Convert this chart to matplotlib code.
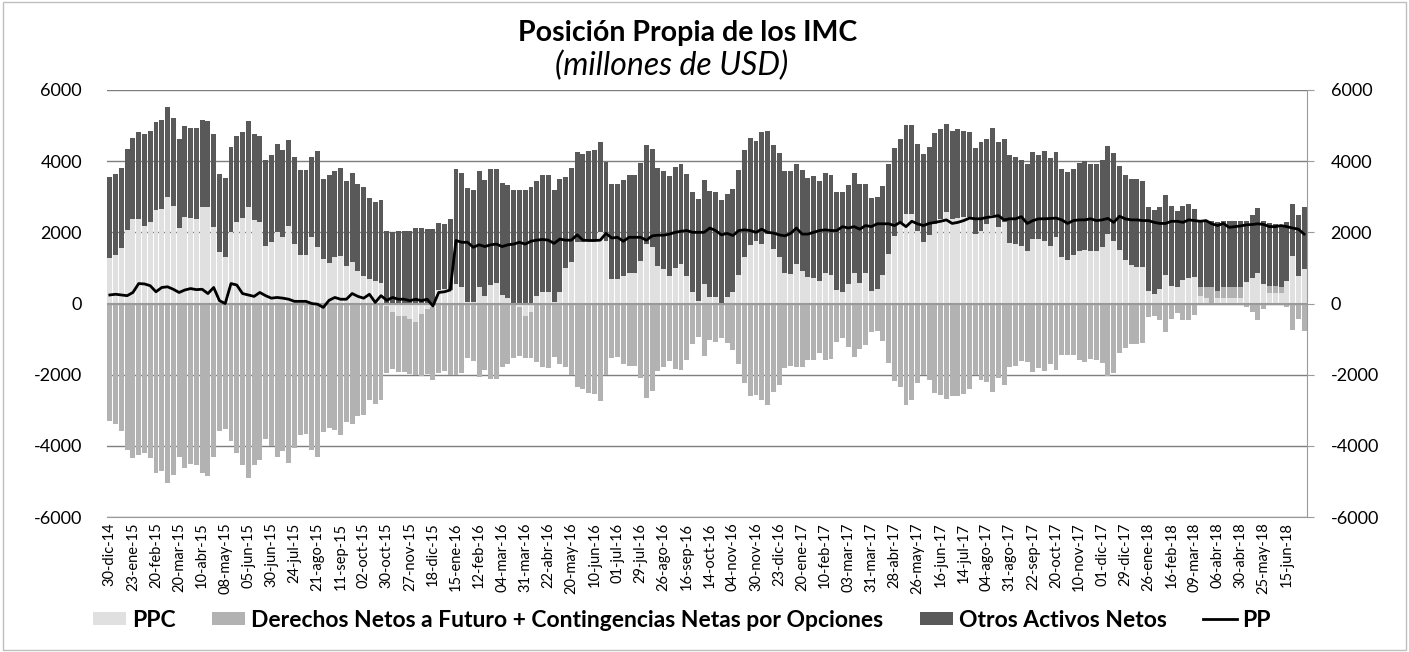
import matplotlib
matplotlib.use("Agg")
import matplotlib.pyplot as plt
import numpy as np

# etiquetas del eje x (una cada 4 semanas)
tick_labels = ["30-dic-14", "23-ene-15", "20-feb-15", "20-mar-15", "10-abr-15", "08-may-15",
               "05-jun-15", "30-jun-15", "24-jul-15", "21-ago-15", "11-sep-15", "02-oct-15",
               "30-oct-15", "27-nov-15", "18-dic-15", "15-ene-16", "12-feb-16", "04-mar-16",
               "31-mar-16", "22-abr-16", "20-may-16", "10-jun-16", "01-jul-16", "29-jul-16",
               "26-ago-16", "16-sep-16", "14-oct-16", "04-nov-16", "30-nov-16", "23-dic-16",
               "20-ene-17", "10-feb-17", "03-mar-17", "31-mar-17", "28-abr-17", "26-may-17",
               "16-jun-17", "14-jul-17", "04-ago-17", "31-ago-17", "22-sep-17", "20-oct-17",
               "10-nov-17", "01-dic-17", "29-dic-17", "26-ene-18", "16-feb-18", "09-mar-18",
               "06-abr-18", "30-abr-18", "25-may-18", "15-jun-18"]

ppc = [1280, 1370, 1560, 2070, 2380, 2380, 2190, 2280, 2630, 2660, 2990, 2750, 2120, 2440, 2400,
       2380, 2720, 2700, 2140, 1440, 1320, 2000, 2280, 2400, 2720, 2350, 2280, 1620, 1740, 2000,
       1860, 2190, 1670, 1360, 1370, 1860,
       1580, 1250, 1130, 1300, 1340, 1060, 1180, 920, 780, 690, 640, 590,
       -60, -240, -340, -340, -430, -530, -290, -150, -100,
       380, 400, 380,
       550, 450, 30, 30, 470, 220, 530, 590, 240, 150, 0, -100, -340, -250, 220, 320, 320, 30,
       310, 1010, 1160, 1720, 1720, 1770, 1770, 2000, 1770, 690, 690, 780, 870, 870, 1200, 1670,
       1580, 1060, 970, 780, 1010, 1110, 780, 310, 80, 550, 170, 170, -50, 170, 330, 800, 1300,
       1650, 1770, 1670, 1950, 1530, 1320,
       850, 830, 1110, 920, 750, 730, 640, 850, 810, 390, 310, 550, 870, 590, 850, 360, 400, 810,
       1390, 1890, 2240, 2520, 2520, 2050, 1720, 1930, 2240, 2380, 2560, 2380, 2390, 2420, 2440,
       1950, 2030, 2220, 2500, 2140, 2280, 1690, 1670, 1620, 1470, 1810, 1810, 1750, 1620, 1860,
       1320, 1220, 1370, 1480, 1500, 1480, 1470, 1580, 1950, 1750, 1500,
       1220, 1090, 1030, 1030, 360, 280, 400, 800, 500, 450, 670, 710, 750,
       200, 150, 0, 150, 150, 150, 150, 150, 600, 710, 870, 550, 290, 290, 290, 620, 1340, 780, 970]

derechos = [-3310, -3380, -3570, -4130, -4350, -4250, -4210, -4350, -4760, -4710, -5050, -4820,
            -4320, -4610, -4520, -4530, -4760, -4860, -4320, -3570, -3530, -3850, -4210, -4540,
            -4900, -4550, -4410, -3800, -4010, -4300, -4150, -4480, -4060, -3700, -3680, -4110,
            -4300, -3620, -3500, -3550, -3690, -3320, -3380, -3170, -3120, -2700, -2820, -2700,
            -1880, -1590, -1590, -1590, -1540, -1470, -1760, -1820, -2060,
            -1940, -1910, -2000,
            -2020, -1940, -1530, -1620, -2060, -1880, -2110, -2110, -1790, -1690, -1520, -1380,
            -1180, -1270, -1650, -1790, -1810, -1500, -1690, -1780, -2020, -2340, -2400, -2520,
            -2550, -2750, -2000, -1520, -1500, -1710, -1770, -1770, -2090, -2660, -2450, -1900,
            -1790, -1620, -1830, -1880, -1580, -1130, -940, -1470, -1030, -1080, -930, -1110,
            -1320, -1690, -2240, -2600, -2560, -2720, -2850, -2480, -2290,
            -1820, -1750, -1780, -1780, -1580, -1580, -1390, -1600, -1550, -1080, -970, -1210,
            -1510, -1270, -1160, -800, -770, -1050, -1670, -2180, -2340, -2850, -2700, -2240,
            -2020, -2160, -2510, -2570, -2690, -2590, -2610, -2540, -2410, -2000, -2160, -2210,
            -2500, -2080, -2280, -1780, -1760, -1610, -1650, -1930, -1800, -1910, -1690, -1860,
            -1440, -1440, -1460, -1600, -1650, -1550, -1580, -1670, -2050, -1950, -1400,
            -1240, -1150, -1150, -1110, -380, -350, -470, -800, -440, -280, -470, -450, -330,
            250, 300, 450, 200, 300, 300, 300, 300, -100, -240, -460, -150, 200, 200, 160, -100,
            -740, -430, -780]

otros = [2270, 2270, 2250, 2280, 2280, 2440, 2560, 2560, 2460, 2510, 2540, 2470, 2510, 2550, 2540,
         2540, 2440, 2440, 2630, 2210, 2210, 2410, 2440, 2410, 2420, 2400, 2440, 2400, 2420, 2470,
         2440, 2410, 2440, 2390, 2370, 2250,
         2710, 2250, 2470, 2420, 2470, 2380, 2480, 2440, 2490, 2280, 2210, 2320,
         2030, 2000, 2050, 2050, 2050, 2120, 2120, 2090, 2090,
         1880, 1830, 2000,
         3240, 3210, 3220, 3170, 3240, 3260, 3240, 3190, 3150, 3190, 3190, 3190, 3190, 3270, 3220,
         3280, 3280, 3170, 3190, 2550, 2650, 2550, 2470, 2520, 2550, 2540, 2210, 2680, 2680, 2680,
         2750, 2750, 2740, 2770, 2770, 2750, 2740, 2790, 2820, 2800, 2850, 2820, 2860, 2930, 2990,
         2960, 2910, 2910, 2890, 2940, 3010, 3000, 2800, 3150, 2890, 2930, 2910,
         2870, 2890, 2800, 2820, 2780, 2850, 2800, 2820, 2790, 2730, 2820, 2790, 2800, 2770, 2500,
         2600, 2600, 2480, 2520, 2480, 2390, 2490, 2490, 2420, 2490, 2480, 2550, 2510, 2470, 2470,
         2500, 2440, 2380, 2420, 2510, 2410, 2440, 2410, 2350, 2470, 2460, 2420, 2440, 2440, 2370,
         2540, 2460, 2400, 2470, 2470, 2410, 2460, 2500, 2440, 2440, 2440, 2470, 2490, 2350,
         2390, 2410, 2470, 2400, 2350, 2350, 2320, 2250, 2250, 2140, 2080, 2080, 1910,
         1900, 1880, 1880, 1930, 1880, 1860, 1880, 1860, 1710, 1790, 1820, 1760, 1760, 1730, 1740,
         1660, 1460, 1720, 1730]

pp = [240, 260, 240, 220, 310, 560, 550, 500, 330, 450, 470, 400, 310, 380, 420, 390, 400, 280,
      450, 80, 0, 560, 520, 280, 240, 200, 310, 220, 150, 170, 150, 120, 60, 60, 60, 0,
      -20, -110, 90, 170, 120, 120, 280, 200, 150, 260, 30, 220,
      90, 170, 120, 120, 80, 120, 80, 120, -70,
      310, 330, 380,
      1770, 1720, 1720, 1580, 1650, 1600, 1650, 1670, 1600, 1650, 1670, 1720, 1670, 1750, 1780,
      1800, 1780, 1690, 1810, 1780, 1780, 1930, 1780, 1770, 1770, 1780, 1970, 1840, 1860, 1750,
      1860, 1860, 1860, 1780, 1900, 1920, 1920, 1950, 2000, 2030, 2050, 2000, 2000, 2000, 2120,
      2050, 1930, 1970, 1910, 2050, 2070, 2050, 2000, 2090, 2000, 1980, 1930,
      1900, 1970, 2120, 1950, 1950, 2000, 2050, 2070, 2050, 2050, 2160, 2120, 2160, 2090, 2190,
      2160, 2240, 2240, 2240, 2190, 2280, 2160, 2310, 2240, 2190, 2250, 2280, 2310, 2350, 2250,
      2280, 2330, 2400, 2380, 2380, 2420, 2440, 2470, 2350, 2380, 2380, 2440, 2250, 2330, 2380,
      2380, 2390, 2400, 2350, 2250, 2330, 2350, 2350, 2380, 2330, 2350, 2390, 2280, 2450,
      2380, 2350, 2350, 2330, 2330, 2280, 2250, 2250, 2310, 2310, 2280, 2350, 2330, 2310, 2330,
      2240, 2190, 2250, 2140, 2160, 2180, 2210, 2220, 2240, 2220, 2160, 2160, 2190, 2160, 2120,
      2090, 1950]

plt.rcParams['font.family'] = ['Lato', 'DejaVu Sans']
plt.rcParams['axes.unicode_minus'] = False

c_ppc = "#e0e0e0"
c_der = "#b2b2b2"
c_otr = "#595959"
names = ["PPC", "Derechos Netos a Futuro + Contingencias Netas por Opciones", "Otros Activos Netos"]

x = np.arange(len(ppc))

fig = plt.figure(figsize=(14.09, 6.52), dpi=100)
ax = fig.add_axes([0.0759, 0.207, 0.8517, 0.655])

# apilado como excel: positivos hacia arriba, negativos hacia abajo
pos_base = np.zeros(len(x))
neg_base = np.zeros(len(x))
handles = []
for serie, col, nm in [(ppc, c_ppc, names[0]), (derechos, c_der, names[1]), (otros, c_otr, names[2])]:
    vals = np.array(serie, dtype=float)
    bottom = np.where(vals >= 0, pos_base, neg_base)
    h = ax.bar(x, vals, bottom=bottom, width=0.86, color=col, linewidth=0, label=nm, zorder=2)
    handles.append(h)
    pos_base = pos_base + np.where(vals >= 0, vals, 0)
    neg_base = neg_base + np.where(vals < 0, vals, 0)

ln, = ax.plot(x, pp, color="black", linewidth=2, label="PP", zorder=4)
handles.append(ln)

ax.set_xlim(-0.5, len(x) - 0.5)
ax.set_ylim(-6000, 6000)
ax.set_yticks(range(-6000, 6001, 2000))
ax.yaxis.grid(True, color="#7f7f7f", linewidth=1.0, zorder=0)
ax.axhline(0, color="#9a9a9a", linewidth=1.5, zorder=3)
ax.set_axisbelow(True)
ax.tick_params(axis="y", length=0, labelsize=13, pad=18)
ax.set_xticks(x[::4])
ax.set_xticklabels(tick_labels, rotation=90, fontsize=10.5)
ax.tick_params(axis="x", length=0, pad=4)
for s in ["top", "left", "right"]:
    ax.spines[s].set_visible(False)
ax.spines["bottom"].set_color("#9a9a9a")

ax2 = ax.twinx()
ax2.set_ylim(-6000, 6000)
ax2.set_yticks(range(-6000, 6001, 2000))
ax2.tick_params(axis="y", length=5, color="#9a9a9a", labelsize=13, pad=12)
for s in ["top", "left", "bottom"]:
    ax2.spines[s].set_visible(False)
ax2.spines["right"].set_color("#9a9a9a")

fig.text(0.488, 0.949, "Posición Propia de los IMC", ha="center", va="center",
         fontsize=20.5, fontweight="bold")
fig.text(0.477, 0.899, "(millones de USD)", ha="center", va="center",
         fontsize=23, style="italic")

fig.legend(handles=handles, loc="center", bbox_to_anchor=(0.484, 0.049), ncol=4,
           frameon=False, prop={"weight": "bold", "size": 16.5},
           handlelength=1.45, handleheight=0.55, columnspacing=1.6, handletextpad=0.25)

fig.patches.append(plt.Rectangle((0.002, 0.003), 0.996, 0.994, transform=fig.transFigure,
                                 fill=False, edgecolor="#bfbfbf", linewidth=1))

fig.savefig("out.png", dpi=100)
